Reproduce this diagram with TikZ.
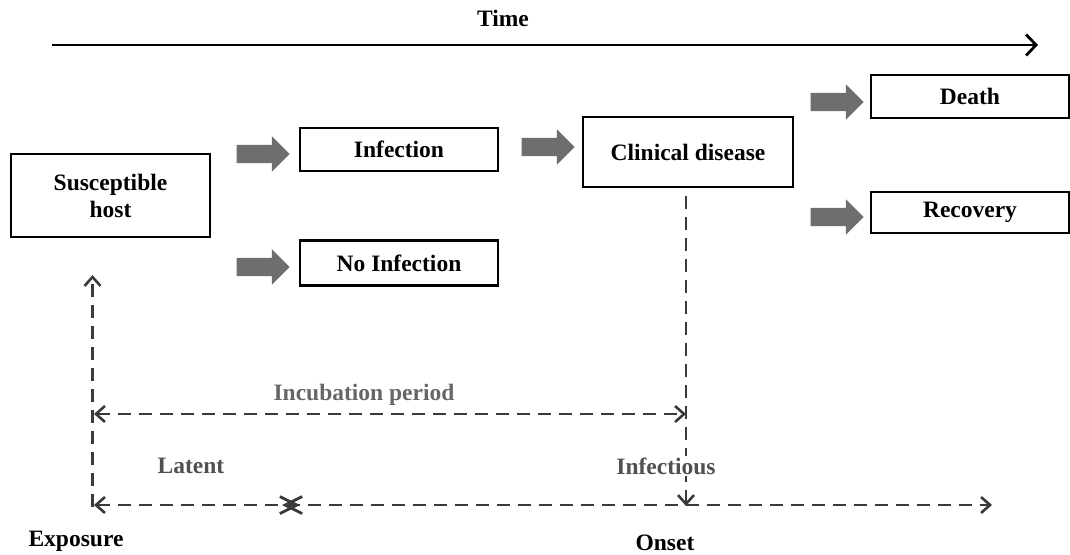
\documentclass[tikz,border=0pt]{standalone}
\usepackage{fontspec}
\setmainfont{Liberation Serif}
\usetikzlibrary{arrows.meta,shapes.arrows}
\definecolor{flowgray}{HTML}{6E6E6E}
\definecolor{dashgray}{HTML}{3A3A3A}
\definecolor{labgray}{HTML}{505050}
\definecolor{incgray}{HTML}{666666}
\tikzset{
  lbl/.style={font=\fontsize{23.5}{27}\selectfont\bfseries, inner sep=1pt, align=center},
  stagebox/.style={draw=black, line width=2.4pt, minimum width=#1, minimum height=43pt,
    lbl, fill=white},
  stagebox/.default=198pt,
  flowarrow/.style={single arrow, fill=flowgray, draw=none, inner sep=0pt,
    inner ysep=9pt, single arrow head extend=8.5pt, minimum height=53pt,
    single arrow tip angle=90},
  barb/.tip={Straight Barb[length=9pt,width=16pt,line width=2.6pt]},
  crossbarb/.tip={Straight Barb[length=17pt,width=17pt,line width=2.8pt]},
  dline/.style={dashgray, line width=2.6pt, dash pattern=on 13pt off 8pt},
}
\begin{document}
\begin{tikzpicture}[x=1pt,y=-1pt]
\useasboundingbox (0,0) rectangle (1070,554);

% time axis
\node[lbl] (time) at (503,18) {Time};
\coordinate (t0) at (52,45);
\coordinate (t1) at (1038,45);
\draw[line width=2.8pt, -{Straight Barb[length=10pt,width=21pt,line width=2.8pt]}] (t0) -- (t1);

% stages
\node[stagebox=199pt, minimum height=83pt] (host) at (110.5,195.5) {Susceptible\\[0pt]host};
\node[stagebox] (inf) at (399,149.5) {Infection};
\node[stagebox, minimum height=45pt] (noinf) at (399,263) {No Infection};
\node[stagebox=210pt, minimum height=70pt] (clin) at (688,152) {Clinical disease};
\node[stagebox, minimum height=43pt] (death) at (970,96.5) {Death};
\node[stagebox, minimum height=41pt] (recov) at (970,212.5) {Recovery};

% flow arrows
\node[flowarrow] (a1) at (258.5,154) {};
\node[flowarrow] (a2) at (258.5,267) {};
\node[flowarrow] (a3) at (543.5,147) {};
\node[flowarrow] (a4) at (832.5,102) {};
\node[flowarrow] (a5) at (832.5,217) {};

% timeline markers
\coordinate (expo) at (92.5,507);
\coordinate (expotop) at (92.5,275);
\coordinate (onset) at (686,506);
\coordinate (incL) at (94,414);
\coordinate (incR) at (686,414);
\coordinate (latL) at (94,505);
\coordinate (latR) at (300,505);
\coordinate (infL) at (282,505);
\coordinate (infR) at (992,505);

\draw[dline, -barb] (expo) -- (expotop);
\draw[dline, -barb] (clin.south -| onset) ++(0,8) -- (onset);
\draw[dline, barb-barb] (incL) -- (incR);
\draw[dline, barb-crossbarb] (latL) -- (latR);
\draw[dline, crossbarb-barb] (infL) -- (infR);

% labels
\node[lbl, text=incgray] (inc) at (364,395) {Incubation period};
\node[lbl, text=labgray] (lat) at (191,466) {Latent};
\node[lbl, text=labgray, fill=white, inner sep=2pt] (infc) at (666,466) {Infectious};
\node[lbl] (expl) at (76,541) {Exposure};
\node[lbl] (onl) at (665,543) {Onset};
\end{tikzpicture}
\end{document}
